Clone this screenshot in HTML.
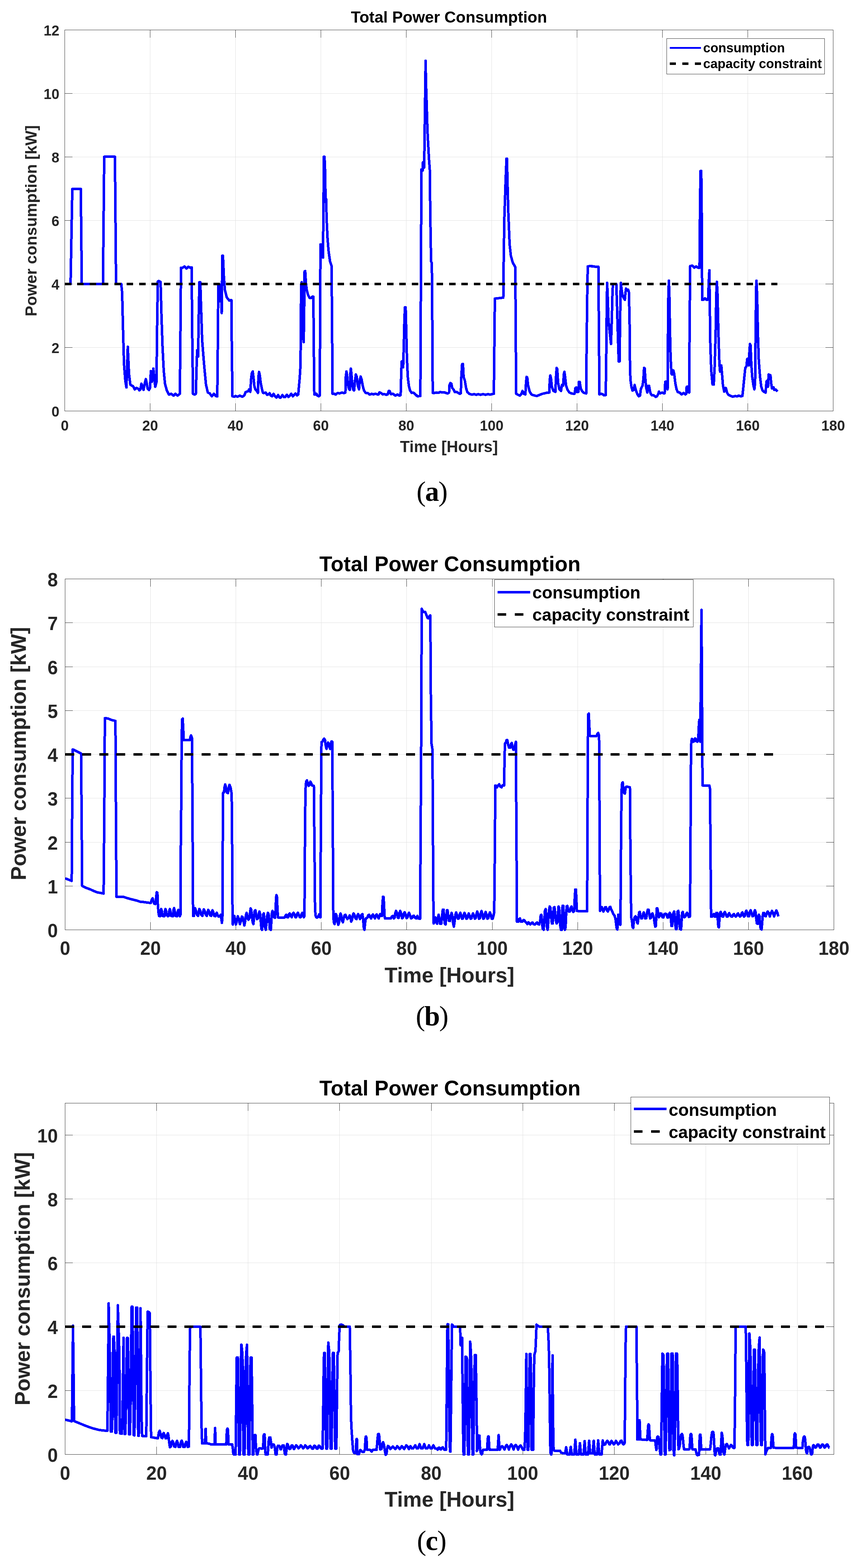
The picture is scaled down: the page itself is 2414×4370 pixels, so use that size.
<!DOCTYPE html>
<html lang="en"><head><meta charset="utf-8"><title>Total Power Consumption</title>
<style>html,body{margin:0;padding:0;background:#fff}body{width:2414px;height:4370px;overflow:hidden}svg{display:block}text{font-family:"Liberation Sans", Arial, Helvetica, sans-serif;font-weight:bold;fill:#262626}.cap{font-family:"Liberation Serif", "DejaVu Serif", serif;font-weight:normal;fill:#000;letter-spacing:-2px}.cap tspan{font-weight:bold}.t{fill:#000}.g{stroke:#dfdfdf;stroke-width:1;fill:none;shape-rendering:crispEdges}.ax{stroke:#262626;stroke-width:1;fill:none;shape-rendering:crispEdges}.c{stroke:#0000ff;fill:none;stroke-linejoin:round;stroke-linecap:butt;shape-rendering:crispEdges}.k{stroke:#000;fill:none;shape-rendering:crispEdges}</style></head><body>
<svg width="2414" height="4370" viewBox="0 0 2414 4370">
<rect width="2414" height="4370" fill="#fff"/>
<g id="chart-a">
<path class="g" d="M418.5 83.5V1145.5M656.5 83.5V1145.5M894.5 83.5V1145.5M1132.5 83.5V1145.5M1370.5 83.5V1145.5M1608.5 83.5V1145.5M1846.5 83.5V1145.5M2084.5 83.5V1145.5M180.5 968.5H2322.5M180.5 791.5H2322.5M180.5 614.5H2322.5M180.5 437.5H2322.5M180.5 260.5H2322.5"/>
<path class="ax" d="M180.5 83.5H2322.5V1145.5H180.5ZM418.5 1145.5v-21.6M418.5 83.5v21.6M656.5 1145.5v-21.6M656.5 83.5v21.6M894.5 1145.5v-21.6M894.5 83.5v21.6M1132.5 1145.5v-21.6M1132.5 83.5v21.6M1370.5 1145.5v-21.6M1370.5 83.5v21.6M1608.5 1145.5v-21.6M1608.5 83.5v21.6M1846.5 1145.5v-21.6M1846.5 83.5v21.6M2084.5 1145.5v-21.6M2084.5 83.5v21.6M180.5 968.5h21.6M2322.5 968.5h-21.6M180.5 791.5h21.6M2322.5 791.5h-21.6M180.5 614.5h21.6M2322.5 614.5h-21.6M180.5 437.5h21.6M2322.5 437.5h-21.6M180.5 260.5h21.6M2322.5 260.5h-21.6"/>
<path class="c" stroke-width="7" d="M180.5 791.5 L196.7 791.5 L201.6 526.5 L225.2 526.5 L228.0 791.5 L287.0 791.5 L290.5 436.9 L320.4 436.9 L323.5 791.5 L338.0 791.5 L340.4 814.6 L343.2 927.1 L345.7 1014.9 L349.2 1060.6 L352.4 1079.9 L356.2 966.4 L359.7 1043.0 L363.3 1071.8 L366.8 1074.6 L371.0 1076.4 L375.6 1085.2 L380.8 1081.0 L385.0 1083.4 L388.6 1088.0 L391.4 1085.2 L394.2 1069.4 L396.6 1076.4 L400.1 1086.9 L403.7 1067.6 L406.5 1056.4 L408.9 1067.6 L411.7 1083.4 L415.3 1086.9 L418.1 1081.7 L420.5 1034.2 L423.7 1064.1 L427.6 1027.2 L430.7 1060.6 L432.8 1078.1 L436.3 1064.1 L437.7 927.1 L439.9 784.8 L442.3 783.0 L447.6 785.8 L450.0 874.3 L452.9 962.2 L456.4 1032.5 L459.9 1069.4 L465.2 1088.7 L471.1 1099.9 L477.4 1097.5 L483.8 1102.7 L489.0 1097.5 L495.0 1102.7 L501.3 1097.5 L502.7 962.2 L504.5 746.1 L509.1 746.1 L514.3 742.6 L519.6 748.6 L524.9 743.6 L530.2 746.1 L534.4 745.4 L535.4 891.9 L537.9 1097.5 L542.5 1099.9 L546.0 1097.5 L547.7 1032.5 L549.5 976.2 L552.3 993.8 L553.7 891.9 L555.8 786.5 L558.3 786.5 L560.0 839.2 L563.5 948.1 L568.8 1014.9 L574.1 1071.1 L579.3 1094.0 L584.6 1096.4 L590.6 1104.5 L596.2 1097.5 L601.5 1103.8 L605.7 1104.5 L607.5 927.1 L608.5 797.0 L610.3 795.3 L612.7 839.2 L615.5 793.5 L618.0 872.6 L619.8 712.7 L621.5 712.7 L624.0 768.9 L626.8 807.6 L632.1 828.7 L639.1 837.5 L645.1 836.4 L646.1 962.2 L647.9 1104.5 L653.1 1105.6 L656.6 1103.8 L661.9 1105.6 L668.9 1102.7 L670.5 1103.8 L675.8 1105.6 L681.1 1102.0 L684.6 1092.9 L688.1 1091.5 L691.6 1090.4 L694.4 1085.2 L697.9 1092.2 L699.7 1057.1 L702.2 1038.8 L704.6 1035.3 L706.7 1053.5 L709.2 1076.4 L712.0 1085.9 L715.5 1089.4 L719.0 1095.0 L720.4 1050.0 L722.2 1036.7 L724.3 1046.5 L726.8 1067.6 L730.3 1085.2 L733.1 1095.0 L737.3 1095.0 L740.8 1094.0 L744.3 1100.3 L747.8 1099.2 L751.4 1095.7 L754.9 1102.7 L758.4 1104.5 L762.6 1097.5 L766.5 1104.5 L770.7 1108.0 L775.2 1101.0 L779.5 1108.0 L783.0 1108.0 L787.2 1101.0 L791.8 1107.0 L795.3 1106.3 L799.5 1100.3 L804.1 1106.3 L807.6 1103.4 L811.8 1097.5 L816.4 1104.5 L819.9 1101.0 L823.4 1096.8 L828.0 1102.0 L831.5 1099.2 L833.2 1078.1 L835.7 1050.0 L837.8 1014.9 L838.5 891.9 L839.6 793.5 L841.0 786.5 L842.0 856.8 L843.4 944.6 L844.8 839.2 L846.6 953.4 L848.0 856.8 L849.0 756.6 L850.8 755.6 L852.6 786.5 L855.0 807.6 L858.5 821.6 L863.1 830.4 L867.3 830.4 L870.8 826.9 L873.6 826.9 L874.3 927.1 L876.1 1099.2 L879.6 1099.2 L882.1 1097.5 L884.9 1102.7 L888.4 1104.5 L891.2 1102.7 L892.3 927.1 L893.3 681.1 L894.7 684.6 L896.1 716.2 L897.9 681.1 L900.3 718.0 L901.7 575.7 L902.8 436.9 L904.6 436.9 L906.0 470.3 L907.7 563.4 L909.1 554.6 L910.5 610.8 L913.0 663.5 L915.8 698.7 L920.0 728.5 L924.2 740.8 L925.3 856.8 L927.0 1097.5 L932.3 1097.5 L935.8 1099.9 L941.1 1095.0 L946.4 1096.4 L953.4 1094.0 L958.7 1095.7 L962.9 1094.0 L963.9 1050.0 L965.7 1035.3 L967.8 1046.5 L969.9 1071.1 L972.7 1083.4 L975.2 1086.9 L976.6 1043.0 L978.0 1027.2 L979.7 1043.0 L982.2 1074.6 L985.0 1086.9 L987.1 1088.0 L989.2 1064.1 L992.0 1043.7 L994.5 1050.0 L997.3 1074.6 L1000.8 1085.2 L1002.9 1060.6 L1005.4 1049.3 L1007.9 1057.1 L1011.4 1076.4 L1014.9 1088.7 L1019.1 1095.0 L1025.4 1095.7 L1030.7 1099.9 L1036.0 1097.5 L1041.2 1099.2 L1046.5 1097.5 L1051.8 1099.2 L1055.3 1099.2 L1057.8 1093.3 L1062.3 1095.7 L1066.9 1099.2 L1071.8 1098.2 L1076.4 1100.3 L1080.9 1099.2 L1083.4 1089.7 L1086.2 1089.7 L1089.4 1098.5 L1095.7 1097.5 L1102.0 1102.7 L1108.0 1099.2 L1113.3 1102.7 L1116.8 1101.0 L1118.2 1050.0 L1119.6 1007.9 L1122.1 1006.1 L1123.8 1023.7 L1125.6 962.2 L1127.3 891.9 L1128.7 856.8 L1130.8 856.8 L1132.6 927.1 L1134.3 997.3 L1136.8 1050.0 L1139.6 1074.6 L1143.1 1088.7 L1147.7 1095.0 L1151.9 1094.0 L1156.1 1097.5 L1160.0 1102.0 L1160.5 1101.0 L1164.1 1104.5 L1169.3 1103.8 L1171.8 1103.8 L1174.6 499.9 L1174.6 472.4 L1178.2 475.3 L1178.9 452.3 L1182.4 467.0 L1186.4 169.3 L1187.4 223.8 L1188.4 261.6 L1189.5 293.7 L1190.5 325.8 L1191.3 356.6 L1192.3 380.3 L1193.3 397.1 L1194.3 415.3 L1195.1 430.6 L1196.1 447.4 L1197.2 461.4 L1198.2 475.3 L1198.2 499.9 L1200.2 646.0 L1201.7 728.5 L1203.8 733.8 L1204.8 856.8 L1206.2 1095.0 L1211.5 1095.0 L1216.8 1094.0 L1222.0 1095.0 L1227.3 1092.2 L1232.6 1094.0 L1237.8 1093.3 L1243.1 1095.0 L1247.7 1096.8 L1251.9 1094.0 L1253.0 1072.9 L1255.4 1067.6 L1258.2 1069.4 L1260.7 1081.7 L1264.2 1085.2 L1267.7 1092.9 L1273.0 1092.2 L1277.2 1095.0 L1281.8 1097.5 L1284.6 1095.7 L1286.0 1050.0 L1288.1 1014.9 L1290.5 1014.2 L1292.3 1050.0 L1295.8 1060.6 L1299.3 1081.7 L1302.8 1092.9 L1308.1 1097.5 L1315.1 1099.9 L1322.2 1098.5 L1327.4 1100.3 L1332.7 1098.5 L1339.7 1100.3 L1346.8 1098.5 L1353.8 1100.3 L1360.1 1098.5 L1366.1 1099.9 L1371.4 1098.5 L1376.6 1097.5 L1377.7 997.3 L1379.4 832.2 L1385.4 831.5 L1396.0 830.4 L1403.0 829.4 L1403.7 751.4 L1405.8 610.8 L1409.3 505.4 L1411.8 442.2 L1413.2 442.2 L1414.6 505.4 L1417.0 593.3 L1420.6 681.1 L1424.1 712.7 L1429.3 732.0 L1436.4 744.3 L1437.4 891.9 L1438.8 1097.5 L1443.4 1099.9 L1448.7 1102.7 L1452.9 1099.2 L1456.4 1089.4 L1459.9 1097.5 L1464.5 1099.2 L1466.2 1067.6 L1468.0 1050.0 L1469.7 1051.8 L1472.2 1074.6 L1476.8 1092.2 L1482.0 1099.9 L1489.1 1102.0 L1496.1 1103.8 L1503.1 1101.0 L1511.9 1097.5 L1522.5 1095.0 L1531.2 1094.0 L1532.3 1060.6 L1534.0 1046.5 L1535.8 1053.5 L1538.3 1078.1 L1542.8 1089.4 L1548.1 1092.2 L1549.9 1050.0 L1551.6 1025.4 L1553.4 1029.0 L1555.8 1067.6 L1559.3 1085.2 L1563.9 1089.4 L1566.4 1072.9 L1569.9 1074.6 L1571.6 1043.0 L1573.4 1036.0 L1575.2 1050.0 L1578.0 1074.6 L1582.2 1086.9 L1587.5 1094.0 L1593.4 1096.8 L1601.5 1097.5 L1604.0 1081.7 L1606.1 1079.9 L1608.5 1092.9 L1612.1 1092.2 L1613.8 1064.1 L1615.9 1064.1 L1619.1 1083.4 L1622.6 1090.4 L1627.9 1095.0 L1634.2 1096.4 L1635.2 962.2 L1637.0 821.6 L1638.4 742.6 L1643.7 741.5 L1650.0 741.5 L1650.5 742.6 L1668.1 743.6 L1669.2 891.9 L1670.9 1099.2 L1675.1 1097.5 L1679.4 1098.5 L1683.9 1102.0 L1688.5 1101.0 L1689.9 997.3 L1691.3 856.8 L1692.4 788.3 L1693.8 821.6 L1696.2 891.9 L1699.7 927.1 L1703.2 958.7 L1705.4 891.9 L1707.1 821.6 L1708.5 791.5 L1713.8 791.5 L1718.0 791.5 L1720.1 856.8 L1722.6 944.6 L1724.7 1007.2 L1727.1 1007.2 L1728.2 927.1 L1729.6 821.6 L1730.7 788.3 L1732.4 804.1 L1734.9 821.6 L1738.4 830.4 L1741.9 835.7 L1743.3 818.1 L1745.1 804.1 L1748.2 809.3 L1751.0 807.6 L1753.1 814.6 L1754.9 891.9 L1756.3 1032.5 L1757.7 1060.6 L1760.2 1078.1 L1763.0 1088.7 L1766.5 1086.9 L1769.0 1072.9 L1771.1 1081.7 L1773.5 1090.4 L1777.0 1099.2 L1780.5 1104.5 L1784.1 1102.7 L1786.2 1085.2 L1788.3 1079.9 L1791.1 1074.6 L1793.5 1057.1 L1795.3 1025.4 L1797.1 1026.1 L1798.8 1053.5 L1800.9 1078.1 L1804.4 1094.0 L1806.9 1075.3 L1809.4 1075.3 L1811.5 1088.7 L1813.9 1097.5 L1817.4 1101.7 L1822.7 1102.0 L1828.0 1106.3 L1831.5 1104.5 L1835.0 1097.5 L1836.8 1091.5 L1840.3 1096.4 L1845.6 1094.0 L1850.8 1096.4 L1852.9 1095.7 L1854.3 1064.1 L1856.8 1063.4 L1858.9 1081.7 L1861.0 1085.2 L1861.7 962.2 L1863.1 821.6 L1864.5 782.3 L1865.9 821.6 L1867.7 927.1 L1869.4 997.3 L1871.9 1043.0 L1874.7 1043.7 L1877.2 1032.5 L1879.6 1043.0 L1882.4 1067.6 L1886.0 1085.2 L1889.5 1092.9 L1894.7 1094.0 L1900.0 1099.2 L1905.3 1095.0 L1910.6 1099.2 L1913.0 1097.5 L1914.1 1078.1 L1916.5 1077.4 L1918.6 1092.2 L1921.1 1094.0 L1922.2 927.1 L1923.9 741.5 L1929.9 740.1 L1935.2 746.1 L1940.4 742.6 L1945.7 746.1 L1949.9 746.1 L1951.3 575.7 L1952.7 476.6 L1954.8 476.6 L1956.2 610.8 L1957.3 835.7 L1961.5 835.0 L1965.0 831.5 L1968.5 835.0 L1973.8 835.0 L1975.6 786.5 L1977.3 753.1 L1978.7 856.8 L1980.1 962.2 L1982.6 1032.5 L1986.1 1071.1 L1989.6 1071.8 L1992.4 1014.9 L1994.9 927.1 L1996.6 821.6 L1998.4 785.5 L2000.2 821.6 L2002.6 927.1 L2005.4 1014.9 L2007.2 1036.0 L2010.7 1018.4 L2012.5 1039.5 L2015.3 1074.6 L2018.8 1091.5 L2021.2 1081.0 L2023.7 1081.7 L2026.5 1094.0 L2030.0 1099.9 L2035.3 1102.7 L2042.3 1105.6 L2049.3 1103.8 L2054.6 1104.5 L2059.9 1102.7 L2065.2 1104.5 L2069.4 1103.8 L2071.5 1085.2 L2073.9 1060.6 L2077.5 1025.4 L2081.0 1020.2 L2082.7 1000.8 L2085.5 999.1 L2087.6 1018.4 L2089.1 979.8 L2090.5 958.7 L2092.2 962.2 L2094.3 1014.9 L2096.8 1050.0 L2100.3 1074.6 L2102.8 1085.2 L2104.9 1067.6 L2106.3 927.1 L2107.7 804.1 L2108.7 782.3 L2110.5 821.6 L2112.6 927.1 L2115.1 1004.4 L2118.6 1050.0 L2122.1 1078.1 L2125.9 1088.7 L2130.2 1092.2 L2134.0 1094.3 L2136.8 1062.6 L2139.3 1060.5 L2141.0 1077.4 L2142.5 1043.7 L2147.7 1045.8 L2149.8 1069.0 L2152.0 1082.7 L2156.2 1079.5 L2158.3 1086.9 L2162.5 1085.8 L2167.8 1091.1"/>
<path class="k" stroke-width="7" stroke-dasharray="18 16.55" d="M180.5 791.5H2167.0"/>
<text transform="translate(180.5 1200.3) scale(0.96 1)" font-size="41.3" text-anchor="middle">0</text>
<text transform="translate(418.5 1200.3) scale(0.96 1)" font-size="41.3" text-anchor="middle">20</text>
<text transform="translate(656.5 1200.3) scale(0.96 1)" font-size="41.3" text-anchor="middle">40</text>
<text transform="translate(894.5 1200.3) scale(0.96 1)" font-size="41.3" text-anchor="middle">60</text>
<text transform="translate(1132.5 1200.3) scale(0.96 1)" font-size="41.3" text-anchor="middle">80</text>
<text transform="translate(1370.5 1200.3) scale(0.96 1)" font-size="41.3" text-anchor="middle">100</text>
<text transform="translate(1608.5 1200.3) scale(0.96 1)" font-size="41.3" text-anchor="middle">120</text>
<text transform="translate(1846.5 1200.3) scale(0.96 1)" font-size="41.3" text-anchor="middle">140</text>
<text transform="translate(2084.5 1200.3) scale(0.96 1)" font-size="41.3" text-anchor="middle">160</text>
<text transform="translate(2322.5 1200.3) scale(0.96 1)" font-size="41.3" text-anchor="middle">180</text>
<text transform="translate(165.6 1161.2) scale(0.96 1)" font-size="41.3" text-anchor="end">0</text>
<text transform="translate(165.6 984.2) scale(0.96 1)" font-size="41.3" text-anchor="end">2</text>
<text transform="translate(165.6 807.2) scale(0.96 1)" font-size="41.3" text-anchor="end">4</text>
<text transform="translate(165.6 630.2) scale(0.96 1)" font-size="41.3" text-anchor="end">6</text>
<text transform="translate(165.6 453.2) scale(0.96 1)" font-size="41.3" text-anchor="end">8</text>
<text transform="translate(165.6 276.2) scale(0.96 1)" font-size="41.3" text-anchor="end">10</text>
<text transform="translate(165.6 99.2) scale(0.96 1)" font-size="41.3" text-anchor="end">12</text>
<text class="t" x="1251.5" y="63.2" font-size="44.4" text-anchor="middle">Total Power Consumption</text>
<text x="1251.5" y="1260.0" font-size="44.4" text-anchor="middle">Time [Hours]</text>
<text transform="translate(101.8 615.3) rotate(-90)" font-size="44.4" text-anchor="middle">Power consumption [kW]</text>
<rect x="1858.5" y="107.5" width="440.0" height="99.0" fill="#fff" stroke="#262626" stroke-width="1" shape-rendering="crispEdges"/>
<path class="c" stroke-width="5.5" d="M1867.0 133.7H1954.0"/>
<path class="k" stroke-width="7" stroke-dasharray="17 18" d="M1867.0 177.4H1954.0"/>
<text class="t" x="1960.0" y="145.5" font-size="36.3">consumption</text>
<text class="t" x="1960.0" y="189.5" font-size="36.3">capacity constraint</text>
<text class="cap" x="1203.6" y="1396.4" font-size="78" text-anchor="middle">(<tspan>a</tspan>)</text>
</g>
<g id="chart-b">
<path class="g" d="M419.6 1613.5V2591.5M657.7 1613.5V2591.5M895.8 1613.5V2591.5M1133.9 1613.5V2591.5M1372.1 1613.5V2591.5M1610.2 1613.5V2591.5M1848.3 1613.5V2591.5M2086.4 1613.5V2591.5M181.5 2469.2H2324.5M181.5 2347.0H2324.5M181.5 2224.8H2324.5M181.5 2102.5H2324.5M181.5 1980.2H2324.5M181.5 1858.0H2324.5M181.5 1735.8H2324.5"/>
<path class="ax" d="M181.5 1613.5H2324.5V2591.5H181.5ZM419.6 2591.5v-21.6M419.6 1613.5v21.6M657.7 2591.5v-21.6M657.7 1613.5v21.6M895.8 2591.5v-21.6M895.8 1613.5v21.6M1133.9 2591.5v-21.6M1133.9 1613.5v21.6M1372.1 2591.5v-21.6M1372.1 1613.5v21.6M1610.2 2591.5v-21.6M1610.2 1613.5v21.6M1848.3 2591.5v-21.6M1848.3 1613.5v21.6M2086.4 2591.5v-21.6M2086.4 1613.5v21.6M181.5 2469.2h21.6M2324.5 2469.2h-21.6M181.5 2347.0h21.6M2324.5 2347.0h-21.6M181.5 2224.8h21.6M2324.5 2224.8h-21.6M181.5 2102.5h21.6M2324.5 2102.5h-21.6M181.5 1980.2h21.6M2324.5 1980.2h-21.6M181.5 1858.0h21.6M2324.5 1858.0h-21.6M181.5 1735.8h21.6M2324.5 1735.8h-21.6"/>
<path class="c" stroke-width="7" d="M181.6 2448.0 L191.1 2451.5 L199.9 2455.1 L200.6 2341.9 L201.6 2201.4 L202.7 2088.9 L205.1 2089.6 L215.7 2094.9 L226.2 2100.2 L226.9 2201.4 L228.3 2377.1 L229.0 2469.1 L233.2 2471.2 L240.3 2474.7 L250.8 2478.3 L261.4 2483.2 L270.1 2486.7 L278.9 2488.4 L288.8 2490.2 L289.8 2377.1 L291.2 2201.4 L292.3 2001.8 L300.0 2002.1 L310.5 2006.4 L321.8 2009.2 L322.8 2201.4 L323.9 2377.1 L324.6 2499.3 L335.1 2499.3 L345.7 2500.0 L356.2 2503.5 L366.8 2506.4 L380.8 2509.9 L391.4 2513.4 L401.9 2514.1 L412.4 2515.8 L420.2 2516.5 L423.0 2507.1 L425.4 2503.5 L427.6 2512.3 L430.0 2518.7 L433.5 2519.4 L435.3 2500.0 L437.0 2486.7 L438.8 2487.7 L439.9 2517.6 L441.6 2542.2 L443.4 2552.7 L446.2 2553.8 L447.9 2538.7 L449.3 2533.4 L451.1 2538.7 L453.2 2552.7 L458.1 2553.8 L459.9 2538.7 L461.3 2533.4 L463.0 2538.7 L465.2 2551.0 L468.0 2553.8 L470.4 2552.7 L472.2 2536.9 L473.6 2533.4 L475.3 2540.4 L477.4 2552.7 L482.0 2553.8 L483.8 2535.2 L485.2 2531.0 L486.9 2538.7 L489.0 2552.7 L493.3 2553.8 L495.4 2540.4 L497.1 2535.9 L499.2 2544.0 L501.0 2553.8 L503.1 2549.2 L503.8 2377.1 L505.6 2201.4 L506.3 2060.8 L507.7 2004.6 L509.4 2002.8 L510.8 2032.7 L512.2 2062.6 L521.4 2062.6 L529.1 2062.6 L530.9 2053.8 L532.6 2049.6 L535.4 2057.3 L536.1 2201.4 L537.2 2377.1 L538.2 2552.7 L540.7 2552.7 L541.7 2538.7 L543.5 2531.0 L546.0 2536.9 L548.8 2549.2 L552.3 2552.7 L554.0 2540.4 L555.8 2533.4 L558.3 2538.7 L560.7 2549.2 L564.2 2552.7 L566.3 2540.4 L568.1 2534.5 L570.6 2539.4 L573.4 2549.2 L576.5 2552.7 L578.6 2541.5 L580.4 2535.9 L582.9 2540.4 L585.7 2551.0 L588.8 2552.7 L590.6 2541.5 L592.3 2536.9 L594.5 2542.2 L597.3 2552.7 L600.4 2553.8 L602.5 2545.7 L604.3 2544.0 L606.8 2551.0 L609.2 2554.5 L613.4 2553.8 L615.5 2549.2 L616.9 2559.8 L618.7 2572.1 L620.1 2552.7 L620.8 2377.1 L621.9 2209.5 L624.3 2208.4 L626.1 2192.6 L627.8 2186.3 L629.6 2192.6 L632.1 2208.4 L635.6 2210.2 L637.7 2194.3 L639.8 2187.3 L642.6 2194.3 L645.1 2208.4 L646.1 2236.5 L647.2 2377.1 L648.2 2552.7 L648.9 2576.6 L650.7 2566.8 L653.1 2552.7 L655.2 2563.3 L657.7 2576.6 L660.2 2566.8 L663.0 2553.8 L665.4 2559.8 L668.2 2573.8 L668.8 2575.6 L671.6 2566.8 L674.1 2554.5 L676.5 2556.3 L678.6 2566.8 L681.1 2579.1 L683.5 2566.8 L685.7 2549.2 L687.4 2544.0 L689.5 2552.7 L692.3 2563.3 L695.1 2559.8 L696.9 2544.0 L698.7 2531.7 L700.4 2535.2 L702.2 2552.7 L704.3 2570.3 L706.4 2575.6 L708.1 2556.3 L709.9 2538.7 L712.0 2536.9 L714.1 2549.2 L716.2 2561.5 L719.0 2559.8 L721.1 2547.5 L723.2 2540.4 L725.4 2547.5 L726.8 2566.8 L728.5 2587.9 L730.3 2591.4 L732.0 2573.8 L733.4 2549.2 L735.2 2545.7 L737.0 2559.8 L738.7 2584.4 L740.8 2591.4 L742.9 2573.8 L744.7 2552.7 L746.8 2544.0 L748.9 2547.5 L750.7 2566.8 L752.1 2589.6 L754.9 2591.4 L756.3 2570.3 L757.7 2545.7 L759.4 2538.7 L761.2 2544.0 L763.3 2556.3 L766.5 2558.0 L768.2 2535.2 L769.6 2500.0 L770.7 2494.8 L772.1 2500.0 L773.5 2535.2 L774.9 2557.0 L783.0 2557.0 L793.5 2557.0 L796.3 2551.0 L798.1 2549.2 L800.5 2556.3 L803.4 2556.3 L805.5 2547.5 L807.6 2545.7 L810.4 2552.7 L813.2 2556.3 L815.7 2547.5 L818.1 2544.0 L820.6 2547.5 L823.4 2556.3 L825.8 2556.3 L828.0 2547.5 L830.4 2544.0 L832.9 2549.2 L835.7 2556.3 L838.5 2556.3 L840.6 2547.5 L842.7 2544.0 L844.8 2551.0 L846.9 2556.3 L848.7 2552.7 L849.4 2447.3 L850.4 2306.8 L851.5 2201.4 L853.3 2178.5 L855.7 2175.0 L857.8 2182.0 L860.3 2190.1 L863.1 2187.3 L865.2 2178.5 L867.3 2182.0 L869.8 2189.1 L875.0 2190.1 L875.7 2271.6 L877.1 2412.2 L878.2 2535.2 L880.0 2552.7 L882.1 2557.0 L884.9 2557.0 L887.7 2552.7 L889.4 2548.5 L891.9 2556.3 L893.3 2556.3 L894.0 2377.1 L895.1 2201.4 L896.1 2068.6 L898.9 2067.1 L901.4 2060.8 L903.5 2058.4 L906.0 2062.6 L908.1 2078.4 L910.2 2087.2 L912.3 2074.9 L914.4 2069.6 L916.5 2071.4 L918.6 2081.9 L920.4 2087.2 L922.1 2074.9 L924.2 2066.1 L926.3 2067.1 L927.0 2201.4 L928.1 2377.1 L929.1 2552.7 L930.6 2570.3 L932.7 2575.6 L934.8 2559.8 L936.5 2547.5 L938.3 2552.7 L940.4 2566.8 L942.9 2577.3 L945.3 2570.3 L947.4 2552.7 L949.2 2545.7 L951.6 2552.7 L953.7 2566.8 L955.9 2570.3 L958.0 2559.8 L960.4 2551.0 L962.9 2549.2 L965.7 2556.3 L968.5 2561.5 L972.0 2558.0 L974.8 2551.0 L976.9 2556.3 L979.0 2568.6 L981.5 2563.3 L983.3 2551.0 L985.7 2545.7 L988.5 2551.0 L991.0 2559.8 L993.8 2561.5 L996.3 2551.0 L998.4 2547.5 L1000.8 2552.7 L1003.6 2561.5 L1006.1 2556.3 L1007.9 2549.2 L1010.3 2547.5 L1012.4 2563.3 L1014.2 2587.9 L1015.9 2591.4 L1017.7 2573.8 L1019.5 2559.8 L1023.7 2558.0 L1026.1 2551.0 L1028.9 2549.2 L1031.7 2556.3 L1034.6 2559.8 L1037.4 2551.0 L1039.5 2548.5 L1042.3 2554.5 L1045.1 2559.8 L1047.9 2551.0 L1050.0 2548.5 L1052.8 2554.5 L1055.6 2559.8 L1057.8 2551.0 L1059.9 2547.5 L1062.3 2552.7 L1064.8 2552.7 L1066.2 2517.6 L1067.6 2499.3 L1069.0 2499.3 L1070.4 2517.6 L1071.8 2552.7 L1073.2 2559.8 L1081.6 2559.8 L1089.4 2559.8 L1092.2 2554.5 L1095.0 2552.7 L1097.5 2559.8 L1099.9 2558.0 L1102.0 2544.0 L1104.1 2538.7 L1106.2 2544.0 L1109.1 2558.0 L1111.5 2558.0 L1113.6 2544.0 L1115.7 2538.7 L1118.2 2545.7 L1121.0 2559.1 L1123.8 2556.3 L1125.9 2545.7 L1128.0 2542.2 L1130.8 2549.2 L1133.6 2559.1 L1136.1 2556.3 L1138.2 2547.5 L1140.3 2544.0 L1143.1 2551.0 L1145.9 2559.8 L1149.1 2558.0 L1151.2 2552.7 L1153.7 2552.0 L1157.2 2558.0 L1160.0 2559.8 L1160.5 2559.8 L1163.4 2552.7 L1165.8 2559.8 L1171.1 2560.5 L1174.4 2019.9 L1174.7 1911.5 L1175.5 1696.6 L1178.2 1701.9 L1179.6 1705.4 L1185.2 1705.4 L1187.3 1710.3 L1189.4 1715.9 L1192.2 1722.9 L1194.3 1723.2 L1197.1 1717.3 L1199.4 1715.2 L1199.9 1771.8 L1200.6 1883.6 L1201.5 1995.3 L1202.4 2019.9 L1202.7 2071.4 L1205.5 2088.9 L1206.2 2201.4 L1207.3 2412.2 L1208.3 2552.7 L1209.0 2573.8 L1211.5 2559.8 L1213.9 2557.0 L1216.1 2570.3 L1218.5 2574.5 L1221.0 2556.3 L1222.7 2549.2 L1224.5 2559.8 L1226.6 2574.5 L1230.1 2574.5 L1232.2 2552.7 L1234.3 2535.2 L1236.4 2535.2 L1237.8 2552.7 L1239.6 2573.8 L1242.1 2576.6 L1244.2 2556.3 L1245.9 2536.9 L1247.7 2536.9 L1249.4 2552.7 L1251.9 2566.8 L1254.4 2566.8 L1256.5 2552.7 L1258.9 2544.0 L1261.0 2552.7 L1263.1 2573.8 L1265.2 2582.6 L1267.0 2570.3 L1269.5 2549.2 L1271.6 2542.9 L1273.7 2549.2 L1276.5 2560.5 L1279.0 2559.8 L1281.1 2549.2 L1283.2 2544.0 L1285.6 2551.0 L1288.1 2560.5 L1290.5 2559.8 L1292.7 2549.2 L1294.8 2544.0 L1297.6 2551.0 L1300.0 2560.5 L1302.5 2559.8 L1304.6 2551.0 L1306.7 2545.7 L1309.2 2552.7 L1311.6 2560.5 L1314.1 2559.8 L1316.2 2551.0 L1318.7 2545.7 L1321.1 2552.7 L1323.6 2560.5 L1326.0 2559.1 L1328.1 2547.5 L1330.3 2540.4 L1332.7 2547.5 L1335.2 2560.5 L1338.0 2559.1 L1340.1 2545.7 L1342.2 2538.7 L1344.7 2547.5 L1347.1 2560.5 L1349.6 2559.1 L1351.7 2547.5 L1353.8 2541.5 L1356.3 2549.2 L1358.7 2560.5 L1361.2 2559.1 L1363.3 2548.5 L1365.7 2542.9 L1368.2 2549.2 L1370.7 2560.5 L1373.5 2560.5 L1375.6 2552.7 L1377.7 2542.2 L1378.7 2447.3 L1379.8 2306.8 L1380.9 2189.1 L1383.0 2190.1 L1385.4 2194.3 L1388.2 2189.1 L1391.7 2185.6 L1394.9 2192.6 L1398.1 2194.3 L1401.2 2188.4 L1405.1 2189.1 L1405.8 2148.7 L1406.9 2096.0 L1407.9 2072.1 L1410.0 2069.6 L1412.1 2062.6 L1414.2 2062.6 L1416.3 2074.9 L1418.8 2083.7 L1422.3 2083.7 L1424.4 2073.1 L1426.5 2070.7 L1428.6 2081.9 L1431.1 2089.6 L1433.9 2088.9 L1436.0 2074.9 L1438.1 2067.1 L1438.8 2201.4 L1439.9 2377.1 L1440.9 2568.6 L1445.2 2568.6 L1447.3 2561.5 L1449.4 2559.8 L1452.2 2568.6 L1456.4 2568.6 L1459.2 2564.0 L1462.0 2565.0 L1464.5 2569.6 L1468.0 2572.1 L1470.4 2575.6 L1473.3 2570.3 L1476.1 2573.8 L1478.5 2576.6 L1482.0 2572.1 L1484.5 2571.0 L1487.3 2575.6 L1490.8 2576.6 L1494.3 2573.1 L1497.2 2571.0 L1500.0 2575.6 L1503.1 2576.6 L1505.6 2566.8 L1507.3 2551.0 L1509.1 2549.2 L1510.9 2570.3 L1512.6 2587.9 L1515.4 2591.4 L1517.2 2566.8 L1518.9 2538.7 L1521.0 2533.4 L1522.8 2552.7 L1524.6 2584.4 L1526.7 2591.4 L1528.4 2570.3 L1530.2 2538.7 L1532.3 2526.4 L1534.4 2529.9 L1536.2 2552.7 L1538.3 2573.8 L1540.7 2573.8 L1542.1 2552.7 L1543.5 2529.9 L1545.6 2528.1 L1547.4 2542.2 L1549.2 2563.3 L1551.6 2573.8 L1554.1 2570.3 L1555.5 2545.7 L1556.9 2526.4 L1558.6 2529.9 L1560.4 2552.7 L1561.8 2580.9 L1563.6 2591.4 L1566.0 2591.4 L1567.1 2552.7 L1568.1 2524.6 L1570.2 2524.6 L1571.6 2552.7 L1573.0 2584.4 L1574.8 2591.4 L1576.6 2584.4 L1578.0 2552.7 L1579.4 2526.4 L1581.5 2524.6 L1583.6 2535.2 L1585.7 2540.4 L1588.5 2540.4 L1591.0 2529.9 L1593.4 2526.4 L1595.5 2536.9 L1598.0 2541.5 L1600.8 2538.7 L1602.2 2500.0 L1603.6 2479.0 L1605.4 2479.0 L1606.8 2510.6 L1608.2 2538.7 L1613.8 2539.7 L1624.3 2539.7 L1636.6 2539.7 L1637.4 2377.1 L1638.4 2131.1 L1639.5 1990.5 L1641.2 1988.8 L1642.6 2018.7 L1644.0 2051.0 L1650.0 2051.0 L1650.5 2051.3 L1662.8 2051.3 L1665.3 2045.0 L1667.4 2042.6 L1669.9 2050.3 L1670.6 2131.1 L1671.6 2377.1 L1672.7 2538.7 L1675.1 2531.7 L1677.6 2528.1 L1679.7 2535.2 L1682.2 2540.4 L1684.6 2533.4 L1687.1 2528.1 L1689.2 2528.1 L1691.7 2536.9 L1694.5 2540.4 L1696.9 2535.2 L1699.0 2528.1 L1701.5 2527.4 L1703.9 2535.2 L1706.8 2540.4 L1709.6 2547.5 L1712.7 2551.0 L1715.5 2559.8 L1717.3 2573.8 L1719.1 2587.9 L1720.8 2590.7 L1722.2 2570.3 L1723.6 2549.2 L1725.4 2559.8 L1727.1 2575.6 L1729.2 2577.3 L1730.3 2482.5 L1731.4 2306.8 L1732.8 2201.4 L1734.2 2182.0 L1735.9 2180.3 L1737.7 2197.9 L1739.8 2210.2 L1741.9 2211.9 L1743.7 2197.9 L1745.4 2192.6 L1748.9 2192.6 L1752.4 2193.6 L1756.0 2194.3 L1756.7 2306.8 L1758.1 2447.3 L1759.5 2556.3 L1761.6 2566.8 L1763.3 2584.4 L1765.1 2586.1 L1766.8 2566.8 L1769.0 2556.3 L1771.4 2553.8 L1773.5 2556.3 L1775.6 2570.3 L1777.7 2573.8 L1779.8 2556.3 L1781.6 2542.2 L1783.4 2541.5 L1785.5 2552.7 L1787.6 2559.8 L1790.4 2559.1 L1792.5 2547.5 L1794.6 2542.9 L1796.7 2549.2 L1798.8 2559.8 L1801.6 2559.1 L1803.7 2544.0 L1805.8 2535.2 L1808.0 2535.2 L1810.1 2549.2 L1812.2 2559.8 L1814.6 2558.0 L1816.7 2547.5 L1818.8 2545.7 L1821.0 2552.7 L1823.1 2559.8 L1824.8 2573.8 L1826.6 2582.6 L1828.3 2580.9 L1829.7 2552.7 L1830.8 2531.7 L1832.6 2531.7 L1834.7 2544.0 L1836.8 2556.3 L1838.9 2552.7 L1841.0 2545.7 L1843.8 2546.4 L1846.6 2556.3 L1849.4 2557.0 L1851.9 2547.5 L1855.0 2546.4 L1857.8 2547.5 L1860.3 2557.0 L1862.8 2557.0 L1864.9 2547.5 L1867.0 2544.0 L1869.1 2547.5 L1870.5 2566.8 L1871.9 2580.9 L1873.7 2580.9 L1875.4 2559.8 L1877.2 2544.0 L1879.3 2540.4 L1881.0 2552.7 L1882.4 2577.3 L1884.2 2589.6 L1886.0 2589.6 L1887.4 2563.3 L1888.8 2540.4 L1890.9 2538.7 L1892.6 2552.7 L1894.0 2577.3 L1895.8 2589.6 L1898.6 2590.7 L1900.0 2566.8 L1901.4 2544.0 L1903.2 2541.5 L1905.3 2551.0 L1907.7 2556.3 L1910.6 2554.5 L1912.7 2547.5 L1915.1 2544.0 L1917.6 2547.5 L1920.0 2555.6 L1923.2 2554.5 L1923.9 2482.5 L1925.0 2306.8 L1926.0 2131.1 L1927.1 2067.1 L1928.8 2059.1 L1930.9 2060.8 L1933.0 2067.1 L1935.2 2065.0 L1937.3 2058.0 L1939.4 2059.1 L1941.5 2066.1 L1944.3 2067.1 L1946.4 2060.8 L1947.8 2025.7 L1949.2 2006.4 L1950.6 2025.7 L1952.0 2067.1 L1955.4 1699.8 L1958.3 2189.1 L1977.3 2189.1 L1979.1 2197.9 L1980.1 2306.8 L1981.2 2447.3 L1982.2 2554.5 L1985.7 2554.5 L1987.9 2549.2 L1990.0 2547.5 L1992.1 2554.5 L1994.9 2554.5 L1997.0 2544.0 L1999.1 2544.0 L2000.9 2563.3 L2002.3 2582.6 L2004.0 2584.4 L2005.4 2563.3 L2006.8 2545.7 L2008.9 2541.5 L2011.0 2547.5 L2013.5 2554.5 L2016.0 2554.5 L2018.1 2545.0 L2020.5 2541.5 L2023.0 2547.5 L2025.8 2554.5 L2028.6 2554.5 L2030.7 2547.5 L2032.8 2545.0 L2035.6 2551.0 L2038.5 2554.5 L2041.3 2554.5 L2043.4 2549.2 L2045.8 2547.5 L2048.3 2552.0 L2051.1 2554.5 L2053.2 2552.7 L2055.3 2547.5 L2057.4 2545.7 L2059.9 2551.0 L2062.7 2554.5 L2065.2 2552.7 L2067.3 2545.0 L2069.4 2542.9 L2071.5 2549.2 L2073.9 2554.5 L2076.4 2552.7 L2078.5 2542.2 L2080.6 2538.0 L2082.7 2544.0 L2085.2 2553.8 L2088.0 2553.8 L2090.1 2542.2 L2092.6 2536.9 L2095.0 2544.0 L2097.5 2553.8 L2100.3 2552.7 L2102.4 2542.2 L2104.5 2536.9 L2106.6 2544.0 L2108.0 2559.8 L2109.8 2573.8 L2112.6 2574.5 L2114.0 2556.3 L2115.4 2549.2 L2117.2 2552.7 L2118.6 2573.8 L2120.3 2587.9 L2122.8 2590.7 L2124.5 2573.8 L2125.9 2552.7 L2127.7 2544.0 L2129.8 2544.0 L2131.9 2552.7 L2134.7 2553.8 L2137.2 2545.7 L2140.0 2540.4 L2142.9 2544.6 L2146.0 2554.1 L2149.0 2544.6 L2151.9 2538.7 L2154.7 2544.6 L2157.8 2554.1 L2160.9 2544.6 L2164.2 2537.5 L2167.3 2544.6 L2169.6 2554.1"/>
<path class="k" stroke-width="7" stroke-dasharray="25 22.52" d="M181.5 2102.5H2169.5"/>
<text transform="translate(181.5 2661.4) scale(0.96 1)" font-size="54" text-anchor="middle">0</text>
<text transform="translate(419.6 2661.4) scale(0.96 1)" font-size="54" text-anchor="middle">20</text>
<text transform="translate(657.7 2661.4) scale(0.96 1)" font-size="54" text-anchor="middle">40</text>
<text transform="translate(895.8 2661.4) scale(0.96 1)" font-size="54" text-anchor="middle">60</text>
<text transform="translate(1133.9 2661.4) scale(0.96 1)" font-size="54" text-anchor="middle">80</text>
<text transform="translate(1372.1 2661.4) scale(0.96 1)" font-size="54" text-anchor="middle">100</text>
<text transform="translate(1610.2 2661.4) scale(0.96 1)" font-size="54" text-anchor="middle">120</text>
<text transform="translate(1848.3 2661.4) scale(0.96 1)" font-size="54" text-anchor="middle">140</text>
<text transform="translate(2086.4 2661.4) scale(0.96 1)" font-size="54" text-anchor="middle">160</text>
<text transform="translate(2324.5 2661.4) scale(0.96 1)" font-size="54" text-anchor="middle">180</text>
<text transform="translate(161.3 2612.0) scale(0.96 1)" font-size="54" text-anchor="end">0</text>
<text transform="translate(161.3 2489.8) scale(0.96 1)" font-size="54" text-anchor="end">1</text>
<text transform="translate(161.3 2367.5) scale(0.96 1)" font-size="54" text-anchor="end">2</text>
<text transform="translate(161.3 2245.3) scale(0.96 1)" font-size="54" text-anchor="end">3</text>
<text transform="translate(161.3 2123.0) scale(0.96 1)" font-size="54" text-anchor="end">4</text>
<text transform="translate(161.3 2000.8) scale(0.96 1)" font-size="54" text-anchor="end">5</text>
<text transform="translate(161.3 1878.5) scale(0.96 1)" font-size="54" text-anchor="end">6</text>
<text transform="translate(161.3 1756.3) scale(0.96 1)" font-size="54" text-anchor="end">7</text>
<text transform="translate(161.3 1634.0) scale(0.96 1)" font-size="54" text-anchor="end">8</text>
<text class="t" x="1254.5" y="1592.4" font-size="58.6" text-anchor="middle" letter-spacing="0.3">Total Power Consumption</text>
<text x="1253.0" y="2738.0" font-size="58.85" text-anchor="middle">Time [Hours]</text>
<text transform="translate(71.6 2100.4) rotate(-90)" font-size="58.85" text-anchor="middle">Power consumption [kW]</text>
<rect x="1378.5" y="1615.5" width="554.0" height="132.0" fill="#fff" stroke="#262626" stroke-width="1" shape-rendering="crispEdges"/>
<path class="c" stroke-width="7" d="M1387.0 1650.8H1478.0"/>
<path class="k" stroke-width="7" stroke-dasharray="24 24" d="M1387.0 1712.9H1478.0"/>
<text class="t" x="1484.0" y="1668.0" font-size="48">consumption</text>
<text class="t" x="1484.0" y="1730.0" font-size="48">capacity constraint</text>
<text class="cap" x="1203.6" y="2858.3" font-size="78" text-anchor="middle">(<tspan>b</tspan>)</text>
</g>
<g id="chart-c">
<path class="g" d="M436.6 3074.5V4053.5M691.7 3074.5V4053.5M946.9 3074.5V4053.5M1202.0 3074.5V4053.5M1457.1 3074.5V4053.5M1712.2 3074.5V4053.5M1967.3 3074.5V4053.5M2222.5 3074.5V4053.5M181.5 3875.5H2324.5M181.5 3697.5H2324.5M181.5 3519.5H2324.5M181.5 3341.5H2324.5M181.5 3163.5H2324.5"/>
<path class="ax" d="M181.5 3074.5H2324.5V4053.5H181.5ZM436.6 4053.5v-21.6M436.6 3074.5v21.6M691.7 4053.5v-21.6M691.7 3074.5v21.6M946.9 4053.5v-21.6M946.9 3074.5v21.6M1202.0 4053.5v-21.6M1202.0 3074.5v21.6M1457.1 4053.5v-21.6M1457.1 3074.5v21.6M1712.2 4053.5v-21.6M1712.2 3074.5v21.6M1967.3 4053.5v-21.6M1967.3 3074.5v21.6M2222.5 4053.5v-21.6M2222.5 3074.5v21.6M181.5 3875.5h21.6M2324.5 3875.5h-21.6M181.5 3697.5h21.6M2324.5 3697.5h-21.6M181.5 3519.5h21.6M2324.5 3519.5h-21.6M181.5 3341.5h21.6M2324.5 3341.5h-21.6M181.5 3163.5h21.6M2324.5 3163.5h-21.6"/>
<path class="c" stroke-width="7" d="M181.6 3956.7 L191.1 3958.8 L199.9 3961.3 L200.6 3959.0 L203.5 3694.8 L206.5 3960.5 L222.7 3967.2 L240.3 3974.3 L257.8 3980.6 L275.4 3985.1 L280.0 3985.8 L289.8 3986.9 L297.1 3987.4 L299.2 3987.4 L299.8 3954.8 L300.6 3873.2 L301.8 3764.8 L302.8 3671.0 L302.8 3632.6 L303.9 3684.0 L305.0 3716.6 L306.2 3777.0 L307.1 3844.7 L308.0 3910.0 L309.0 3989.9 L311.8 3989.9 L313.3 3950.7 L314.5 3790.0 L315.6 3742.7 L316.1 3725.0 L317.3 3725.0 L318.1 3741.1 L319.2 3764.8 L320.1 3844.7 L321.0 3950.7 L321.8 3993.1 L324.4 3993.1 L325.5 3910.0 L326.3 3828.4 L327.6 3715.8 L328.4 3648.1 L328.5 3637.8 L329.5 3675.0 L330.7 3702.8 L332.0 3749.3 L333.1 3823.5 L333.3 3910.0 L333.5 3975.2 L334.3 3994.8 L339.5 3995.6 L341.4 3942.6 L342.6 3865.9 L343.5 3781.9 L344.4 3728.4 L344.6 3787.6 L345.3 3861.0 L346.1 3926.3 L347.2 3996.4 L349.3 3996.4 L351.1 3926.3 L352.7 3794.9 L353.7 3757.4 L354.0 3728.9 L356.1 3728.9 L357.2 3772.9 L358.1 3861.0 L359.0 3926.3 L359.6 3997.2 L362.4 3997.2 L364.2 3905.9 L365.6 3750.1 L366.7 3666.9 L367.0 3641.9 L369.2 3641.9 L370.3 3732.1 L371.4 3844.7 L372.0 3905.9 L372.7 3999.7 L374.6 4000.5 L376.4 3910.0 L377.6 3812.1 L378.6 3724.8 L379.8 3655.5 L379.8 3644.0 L382.2 3644.0 L383.3 3734.6 L383.9 3828.4 L384.2 3910.0 L385.2 4001.3 L386.9 4001.3 L389.0 3910.0 L390.3 3812.1 L391.4 3730.5 L391.6 3646.0 L392.3 3707.7 L393.5 3819.4 L394.3 3929.5 L395.6 3991.5 L396.6 4002.1 L405.6 4002.6 L407.6 4002.9 L408.5 3942.6 L409.5 3828.4 L410.7 3724.0 L411.8 3655.5 L415.4 3657.1 L417.7 3660.0 L418.5 3771.3 L419.6 3877.3 L420.6 3967.0 L421.3 4005.4 L440.0 4008.6 L440.6 4006.9 L442.7 3992.9 L445.1 3987.6 L447.6 3996.4 L450.0 4006.9 L452.9 4008.0 L454.6 3996.4 L456.4 3993.9 L458.8 3999.9 L461.6 4008.7 L464.4 4008.0 L466.2 3998.1 L468.0 3994.6 L469.7 4001.7 L471.5 4019.2 L473.6 4033.3 L476.4 4031.5 L478.5 4019.2 L480.6 4015.7 L482.7 4019.2 L485.5 4031.5 L489.0 4032.6 L491.2 4021.0 L493.3 4015.7 L495.4 4021.0 L497.8 4032.6 L502.0 4032.6 L504.5 4019.2 L506.6 4015.0 L508.7 4021.0 L510.8 4032.6 L515.0 4032.6 L517.2 4022.0 L519.3 4018.5 L521.4 4022.7 L523.5 4032.6 L526.6 4031.5 L527.3 3952.5 L528.4 3811.9 L529.8 3703.0 L531.2 3697.5 L558.3 3697.5 L559.3 3741.6 L560.7 3882.2 L562.1 3987.6 L563.5 4022.7 L568.8 4022.7 L571.5 4022.7 L572.2 4005.2 L572.9 3982.3 L573.5 3982.3 L574.1 4005.2 L574.6 4022.7 L576.9 4022.7 L582.9 4023.4 L588.1 4025.6 L595.9 4025.6 L598.4 4025.6 L598.8 4005.2 L599.3 3980.6 L599.8 3979.9 L600.3 4005.2 L600.7 4025.6 L603.2 4025.6 L612.7 4025.6 L619.8 4025.6 L620.0 4025.7 L628.4 4025.7 L630.8 4025.7 L631.6 4001.1 L632.8 3984.2 L634.1 3981.4 L635.3 3984.2 L636.1 4001.1 L636.9 4022.2 L637.7 4025.7 L640.4 4025.7 L647.4 4025.7 L648.8 4036.2 L650.2 4050.3 L651.6 4053.4 L654.4 4053.4 L656.8 4053.4 L657.5 3987.0 L658.5 3902.7 L659.5 3818.4 L659.9 3783.5 L663.0 3783.5 L663.9 3860.5 L664.7 3944.9 L665.7 4015.2 L666.4 4053.4 L668.9 4053.4 L669.9 3980.0 L670.9 3874.6 L671.7 3804.3 L672.4 3747.8 L673.1 3747.8 L674.1 3756.5 L675.2 3767.8 L675.9 3786.1 L677.1 3808.5 L677.3 3874.6 L677.9 3980.0 L679.0 4053.4 L681.8 4053.4 L683.0 3973.0 L684.4 3850.7 L685.4 3797.3 L686.3 3770.6 L687.5 3759.4 L688.4 3747.8 L688.7 3748.1 L689.1 3787.5 L689.7 3832.4 L690.0 3860.5 L690.6 3930.8 L691.0 3977.9 L691.7 4029.2 L692.4 4053.4 L695.2 4053.4 L695.9 3973.0 L697.0 3860.5 L698.0 3804.3 L698.7 3783.5 L701.2 3783.5 L701.7 3811.4 L702.6 3881.6 L703.6 3958.9 L704.3 4053.4 L706.4 4053.4 L707.8 4015.2 L709.2 3999.7 L712.1 3999.7 L713.0 4022.2 L714.4 4043.3 L716.3 4053.4 L717.7 4053.4 L719.1 4047.5 L721.2 4039.0 L723.3 4036.2 L726.8 4036.5 L728.9 4037.9 L731.0 4036.9 L733.4 4036.9 L734.0 4022.2 L734.9 4001.1 L736.0 3997.6 L737.3 3997.6 L738.3 4008.1 L738.9 4029.2 L739.5 4043.3 L740.3 4053.4 L743.0 4053.4 L746.5 4053.4 L747.6 4036.2 L749.0 4015.2 L750.7 4006.0 L753.5 4006.0 L754.9 4015.2 L756.1 4029.2 L757.0 4034.8 L758.4 4029.2 L760.5 4025.7 L763.4 4026.1 L765.5 4032.0 L766.9 4043.3 L768.3 4053.4 L771.1 4053.4 L772.1 4043.3 L773.2 4032.0 L774.6 4029.2 L778.1 4029.2 L780.2 4033.4 L781.6 4039.0 L783.7 4039.0 L785.6 4032.0 L787.3 4028.5 L790.8 4028.5 L792.2 4036.2 L793.6 4050.3 L795.0 4053.4 L797.4 4053.4 L798.2 4043.3 L799.2 4029.2 L800.6 4024.3 L802.0 4025.7 L804.1 4032.0 L805.5 4037.6 L807.6 4038.3 L809.7 4037.6 L811.1 4032.0 L812.8 4028.5 L815.4 4028.5 L817.5 4033.4 L818.9 4038.3 L820.0 4038.3 L822.7 4033.3 L825.5 4028.0 L829.0 4031.5 L832.2 4036.8 L835.4 4033.3 L838.5 4028.0 L842.0 4031.5 L844.8 4036.8 L848.0 4033.3 L850.8 4028.0 L854.3 4031.5 L857.1 4036.8 L860.0 4035.0 L860.0 4034.9 L862.3 4031.0 L864.7 4029.9 L867.0 4032.6 L869.3 4037.2 L873.2 4037.2 L874.8 4031.0 L876.3 4029.0 L878.6 4030.2 L881.0 4034.9 L882.5 4037.2 L885.6 4037.2 L887.2 4031.0 L888.7 4029.0 L891.1 4030.2 L893.4 4034.9 L895.4 4037.2 L898.0 4037.2 L899.1 4037.2 L899.9 3996.1 L901.0 3918.4 L901.9 3840.8 L903.0 3781.8 L903.5 3770.6 L905.3 3770.6 L906.0 3809.8 L906.9 3871.9 L907.7 3965.0 L908.4 4011.6 L909.4 4037.2 L912.0 4037.2 L912.8 3965.0 L913.7 3871.9 L914.5 3794.2 L915.1 3741.9 L915.4 3744.5 L916.4 3755.4 L917.5 3764.7 L918.4 3794.2 L919.3 3871.9 L920.2 3949.5 L921.0 4011.6 L921.8 4037.2 L924.4 4037.2 L925.2 3965.0 L926.3 3871.9 L927.2 3809.8 L928.0 3770.6 L930.2 3770.6 L931.1 3809.8 L932.0 3871.9 L933.0 3934.0 L933.8 4011.6 L934.5 4037.2 L937.6 4037.2 L938.4 3980.6 L939.5 3887.4 L940.4 3809.8 L941.1 3770.9 L944.0 3766.3 L944.9 3739.9 L945.9 3716.6 L946.6 3697.5 L947.7 3692.5 L950.1 3691.7 L953.2 3692.0 L957.0 3694.1 L959.4 3697.5 L974.9 3697.5 L975.4 3708.8 L976.1 3770.9 L977.4 3856.3 L978.2 3934.0 L979.3 3972.8 L980.3 3988.3 L981.6 4008.5 L982.7 4024.0 L984.2 4042.7 L986.6 4048.9 L988.6 4049.7 L991.5 4049.7 L992.2 4042.7 L992.8 4027.1 L993.5 4011.6 L994.3 4010.1 L995.1 4011.6 L995.5 4027.1 L995.9 4045.8 L996.4 4052.8 L998.5 4052.8 L1000.5 4052.8 L1002.1 4047.3 L1003.2 4042.7 L1004.7 4041.1 L1006.7 4042.7 L1009.1 4045.8 L1010.9 4046.6 L1014.2 4046.6 L1015.5 4043.4 L1017.0 4040.3 L1017.8 4027.1 L1018.5 4011.6 L1019.5 4003.9 L1020.8 4003.9 L1021.8 4011.6 L1022.5 4027.1 L1023.2 4040.3 L1024.9 4040.3 L1029.3 4040.8 L1033.1 4041.1 L1034.7 4044.2 L1036.2 4045.8 L1037.8 4042.7 L1039.3 4040.8 L1043.2 4040.8 L1049.4 4040.8 L1051.0 4027.1 L1052.2 4011.6 L1053.8 3996.9 L1056.0 3996.1 L1057.5 4003.9 L1058.8 4027.1 L1060.0 4039.6 L1059.9 4036.8 L1063.4 4038.6 L1065.9 4022.7 L1068.0 4019.2 L1070.4 4026.3 L1072.9 4043.8 L1075.0 4054.4 L1077.5 4052.6 L1079.2 4036.8 L1081.3 4029.8 L1084.5 4031.5 L1088.0 4038.6 L1091.5 4035.0 L1095.0 4031.5 L1098.5 4035.0 L1102.1 4038.6 L1104.5 4035.0 L1107.3 4030.5 L1110.8 4034.0 L1114.3 4038.6 L1117.2 4035.0 L1120.0 4030.5 L1123.1 4034.0 L1126.6 4038.6 L1129.5 4033.3 L1132.6 4028.0 L1136.1 4031.5 L1140.0 4038.6 L1139.8 4036.8 L1144.1 4030.5 L1147.6 4036.8 L1151.8 4036.8 L1157.4 4028.0 L1161.6 4036.8 L1165.1 4036.8 L1169.7 4024.5 L1173.9 4036.8 L1178.1 4036.8 L1182.7 4024.5 L1186.9 4036.8 L1191.5 4036.8 L1195.7 4028.0 L1200.3 4036.8 L1203.8 4036.8 L1208.0 4028.0 L1212.6 4036.8 L1217.8 4037.5 L1220.0 4038.6 L1220.0 4040.3 L1222.3 4034.9 L1224.7 4034.6 L1227.0 4038.8 L1229.3 4039.6 L1231.6 4034.9 L1234.0 4033.7 L1236.3 4036.5 L1238.3 4040.3 L1242.5 4040.3 L1243.6 4040.3 L1244.1 4011.6 L1244.8 3934.0 L1245.9 3825.3 L1246.7 3732.1 L1247.2 3691.7 L1248.0 3690.2 L1249.5 3691.0 L1250.4 3763.2 L1251.1 3825.3 L1252.1 3934.0 L1253.1 3996.1 L1254.2 4042.7 L1254.9 4045.8 L1255.7 4045.8 L1256.3 3996.1 L1257.4 3910.7 L1258.5 3798.9 L1259.6 3718.1 L1259.9 3691.7 L1261.9 3693.3 L1264.3 3697.5 L1282.1 3697.5 L1282.4 3697.5 L1283.4 3724.3 L1284.0 3749.2 L1286.5 3732.1 L1288.3 3728.2 L1288.3 3778.7 L1289.4 3856.3 L1290.5 3957.3 L1291.4 4027.1 L1292.2 4053.5 L1294.5 4053.5 L1295.3 3996.1 L1296.1 3918.4 L1297.2 3840.8 L1297.6 3781.0 L1300.0 3781.8 L1301.1 3784.9 L1301.7 3825.3 L1302.3 3902.9 L1303.1 3980.6 L1303.9 4027.1 L1304.6 4053.5 L1307.0 4053.5 L1307.7 3980.6 L1308.8 3887.4 L1309.8 3809.8 L1310.5 3739.1 L1310.8 3739.9 L1311.6 3752.3 L1312.5 3766.3 L1313.6 3791.1 L1314.7 3848.6 L1315.3 3918.4 L1316.0 3980.6 L1316.6 4027.1 L1317.4 4053.5 L1319.4 4053.5 L1320.2 3980.6 L1321.2 3887.4 L1322.5 3825.3 L1323.7 3776.8 L1326.4 3776.8 L1326.5 3794.2 L1327.6 3864.1 L1328.7 3949.5 L1329.3 3996.1 L1329.0 4044.2 L1331.0 4039.6 L1332.6 4011.6 L1334.1 4000.7 L1336.5 4001.1 L1337.4 4024.0 L1338.8 4042.7 L1340.3 4050.4 L1342.7 4053.2 L1344.2 4050.4 L1345.5 4042.7 L1346.6 4040.3 L1348.9 4040.3 L1355.1 4040.3 L1357.7 4040.3 L1358.6 4027.1 L1359.5 4011.6 L1360.4 4003.9 L1361.3 4003.1 L1362.2 4003.9 L1363.1 4019.4 L1364.0 4034.9 L1364.8 4040.3 L1367.2 4040.3 L1375.3 4040.3 L1384.6 4040.3 L1387.4 4040.3 L1388.5 4020.9 L1389.9 3999.5 L1391.3 4020.9 L1392.4 4040.3 L1393.6 4040.0 L1397.0 4032.1 L1399.8 4030.7 L1402.6 4033.5 L1406.3 4040.0 L1409.6 4030.7 L1412.4 4027.1 L1415.2 4030.7 L1418.6 4040.0 L1422.3 4029.3 L1425.1 4025.7 L1427.9 4029.3 L1431.6 4040.0 L1434.9 4029.9 L1437.7 4027.1 L1440.5 4030.7 L1444.2 4040.0 L1447.6 4031.6 L1450.9 4028.5 L1453.8 4032.1 L1457.4 4040.0 L1461.7 4040.3 L1463.6 4011.6 L1464.7 3957.3 L1465.9 3879.6 L1466.7 3809.8 L1467.2 3773.7 L1467.6 3825.3 L1468.4 3902.9 L1469.5 3980.6 L1470.7 4040.3 L1472.9 4040.3 L1473.9 3980.6 L1474.8 3902.9 L1475.6 3840.8 L1476.5 3773.7 L1478.8 3773.7 L1479.3 3794.2 L1480.4 3840.8 L1480.8 3902.9 L1481.3 3971.2 L1481.9 4040.3 L1486.6 4040.3 L1486.6 3996.1 L1487.5 3902.9 L1488.6 3825.3 L1489.4 3778.7 L1490.0 3774.0 L1492.5 3766.3 L1493.6 3743.0 L1494.5 3718.1 L1495.4 3697.5 L1495.4 3691.7 L1499.0 3694.8 L1503.7 3697.5 L1506.8 3697.5 L1527.0 3697.5 L1527.4 3701.1 L1528.4 3722.8 L1529.4 3743.0 L1530.4 3778.7 L1531.5 3840.8 L1532.5 3926.2 L1533.6 4011.6 L1534.4 4048.9 L1536.3 4053.5 L1537.0 4053.5 L1538.1 3980.6 L1539.4 3871.9 L1540.2 3777.1 L1540.5 3825.3 L1541.4 3932.4 L1542.5 4016.3 L1543.3 4041.9 L1546.0 4043.1 L1561.4 4043.1 L1563.9 4048.4 L1570.8 4050.4 L1575.3 4050.4 L1578.2 4033.4 L1581.2 4053.3 L1588.1 4053.3 L1591.0 4032.5 L1594.0 4053.3 L1600.8 4053.3 L1603.8 4012.5 L1606.8 4053.3 L1613.6 4053.3 L1616.6 4022.3 L1619.5 4053.3 L1626.7 4053.3 L1629.7 4016.4 L1632.6 4053.3 L1639.2 4053.3 L1642.2 4015.4 L1645.1 4050.1 L1652.0 4050.1 L1655.0 4015.4 L1657.9 4053.3 L1664.5 4053.3 L1667.5 4014.4 L1670.4 4053.3 L1677.1 4053.3 L1680.1 4014.4 L1683.0 4026.3 L1687.0 4025.8 L1689.9 4019.4 L1692.9 4015.4 L1695.8 4019.4 L1698.3 4025.3 L1700.1 4025.8 L1702.0 4021.0 L1704.8 4015.7 L1708.0 4021.0 L1710.8 4025.6 L1713.6 4022.7 L1717.1 4015.7 L1720.3 4021.0 L1723.1 4025.6 L1726.6 4022.7 L1730.1 4015.7 L1732.6 4015.0 L1735.4 4022.7 L1738.2 4025.6 L1741.0 4022.7 L1742.1 3952.5 L1743.1 3829.5 L1744.2 3724.1 L1745.2 3697.5 L1774.1 3697.5 L1774.8 3776.8 L1775.8 3882.2 L1776.9 3987.6 L1776.2 4011.9 L1778.2 4011.9 L1780.3 4011.9 L1781.2 3978.7 L1782.0 3958.5 L1782.9 3958.5 L1783.7 3978.7 L1784.6 4001.2 L1785.4 4011.9 L1788.3 4011.9 L1790.6 4012.7 L1801.8 4013.0 L1804.2 4013.0 L1804.9 4001.2 L1806.0 3984.3 L1807.0 3972.0 L1808.0 3969.7 L1809.1 3972.0 L1809.9 3984.3 L1810.8 4001.2 L1811.5 4012.4 L1812.2 4014.1 L1814.8 4014.1 L1825.5 4014.5 L1827.1 4019.2 L1828.3 4032.7 L1829.7 4041.1 L1830.8 4034.9 L1831.3 4012.4 L1832.2 4004.6 L1833.9 4003.7 L1835.6 4005.1 L1836.7 4012.4 L1837.8 4023.7 L1838.9 4038.3 L1840.6 4050.7 L1840.9 4053.4 L1843.1 4053.4 L1843.4 4008.9 L1844.4 3935.6 L1845.4 3848.0 L1846.3 3786.2 L1846.4 3772.6 L1848.1 3774.0 L1849.6 3777.6 L1850.6 3843.7 L1851.1 3915.5 L1852.0 3987.4 L1852.6 4030.5 L1853.2 4053.4 L1855.3 4053.4 L1856.3 4001.7 L1857.5 3915.5 L1858.5 3829.3 L1859.5 3774.7 L1860.1 3772.6 L1862.5 3772.6 L1863.2 3829.3 L1863.9 3901.1 L1864.7 3973.0 L1865.4 4016.1 L1866.1 4042.0 L1866.4 4039.4 L1869.0 4039.4 L1869.7 4039.4 L1870.1 3987.4 L1870.8 3901.1 L1871.4 3829.3 L1871.8 3772.6 L1875.0 3772.6 L1875.6 3843.7 L1876.4 3929.9 L1877.3 4001.7 L1878.0 4044.8 L1878.7 4054.9 L1879.5 4056.0 L1880.5 4030.5 L1882.2 3973.0 L1883.3 3843.7 L1884.3 3772.6 L1887.1 3772.6 L1887.6 3780.5 L1888.5 3829.3 L1889.5 3915.5 L1890.5 4001.7 L1891.2 4039.1 L1892.0 4039.1 L1894.8 4030.5 L1896.6 4008.9 L1898.4 3998.9 L1900.6 3996.3 L1902.3 3998.9 L1903.7 4008.9 L1904.9 4023.3 L1906.3 4036.2 L1907.0 4039.1 L1919.3 4039.1 L1921.8 4039.1 L1922.7 4030.5 L1923.6 4008.9 L1924.7 3998.1 L1926.1 3996.3 L1927.3 3998.1 L1928.2 4008.9 L1929.0 4023.3 L1929.6 4036.2 L1930.0 4039.1 L1932.5 4039.1 L1938.6 4039.1 L1940.1 4044.8 L1942.2 4053.4 L1944.4 4056.0 L1945.8 4054.9 L1948.3 4054.9 L1949.1 4044.8 L1949.6 4023.3 L1950.4 4004.6 L1951.2 3998.1 L1952.2 3998.1 L1953.1 4004.6 L1953.9 4023.3 L1954.6 4036.2 L1955.2 4039.4 L1957.8 4039.4 L1966.7 4039.1 L1979.6 4039.1 L1981.3 4023.3 L1983.2 4001.7 L1984.9 3991.7 L1986.8 3990.2 L1988.5 3991.7 L1989.7 4001.7 L1990.8 4023.3 L1991.8 4044.8 L1992.8 4054.9 L1994.0 4056.0 L1995.1 4050.6 L1996.6 4042.0 L1998.3 4036.9 L2000.0 4036.9 L2002.5 4036.8 L2004.2 4047.3 L2006.0 4053.7 L2008.8 4053.7 L2010.2 4022.7 L2011.9 3992.9 L2013.7 4001.7 L2015.5 4029.8 L2017.2 4050.9 L2019.3 4053.7 L2021.1 4040.3 L2023.5 4026.3 L2026.3 4024.5 L2029.2 4029.8 L2032.3 4036.8 L2034.8 4031.5 L2037.6 4027.0 L2040.0 4030.5 L2040.0 4028.7 L2042.3 4033.4 L2044.7 4035.7 L2047.0 4035.7 L2047.8 4027.1 L2047.8 3996.1 L2048.9 3910.7 L2049.6 3803.5 L2050.7 3724.3 L2050.9 3697.5 L2078.8 3697.5 L2079.3 3739.9 L2080.4 3825.3 L2081.6 3934.0 L2082.7 4011.6 L2083.5 4027.1 L2085.8 4027.1 L2086.6 3980.6 L2087.4 3871.9 L2088.1 3778.7 L2088.8 3716.6 L2089.1 3718.1 L2089.7 3727.5 L2090.6 3741.4 L2091.7 3758.5 L2092.5 3809.8 L2093.3 3887.4 L2094.3 3965.0 L2095.1 4011.6 L2095.9 4027.1 L2098.2 4027.1 L2099.0 3965.0 L2100.1 3871.9 L2101.2 3809.8 L2101.8 3761.6 L2104.1 3761.6 L2105.2 3825.3 L2106.1 3902.9 L2107.1 3965.0 L2107.9 4011.6 L2108.6 4027.1 L2111.1 4027.1 L2111.7 3965.0 L2112.7 3887.4 L2113.6 3825.3 L2114.5 3769.4 L2115.6 3748.4 L2116.7 3737.5 L2117.3 3727.8 L2117.6 3727.8 L2118.0 3778.7 L2118.6 3840.8 L2119.2 3918.4 L2120.0 3965.0 L2120.7 4011.6 L2121.5 4027.1 L2123.9 4027.1 L2124.6 3965.0 L2125.4 3871.9 L2126.5 3794.2 L2127.3 3761.6 L2128.5 3763.2 L2129.8 3767.0 L2130.5 3772.5 L2131.6 3887.4 L2132.5 3980.6 L2133.2 4027.1 L2133.5 4053.2 L2135.0 4048.9 L2137.0 4042.7 L2139.4 4038.8 L2140.9 4035.2 L2146.4 4035.2 L2148.9 4035.2 L2149.5 4027.1 L2150.3 4011.6 L2151.4 3999.2 L2152.6 3996.9 L2153.8 3999.2 L2154.7 4011.6 L2155.5 4027.1 L2156.3 4034.9 L2158.8 4034.9 L2164.2 4035.2 L2210.0 4035.2 L2212.5 4035.2 L2213.1 4027.1 L2213.8 4011.6 L2214.7 3997.6 L2215.8 3994.8 L2217.0 3996.1 L2217.9 4008.5 L2218.6 4024.0 L2219.4 4034.9 L2222.0 4034.9 L2223.2 4035.2 L2234.9 4035.2 L2236.8 4035.2 L2237.9 4019.5 L2240.1 4005.4 L2241.7 4003.3 L2243.6 4005.4 L2245.0 4019.5 L2246.1 4035.2 L2247.1 4043.4 L2248.5 4049.7 L2249.9 4050.4 L2250.9 4040.5 L2252.3 4033.5 L2254.1 4032.1 L2256.2 4033.5 L2257.9 4037.7 L2259.3 4047.6 L2260.7 4053.2 L2262.5 4053.5 L2263.9 4051.8 L2264.9 4040.5 L2266.1 4030.0 L2267.5 4027.6 L2269.1 4028.6 L2271.0 4032.1 L2273.1 4034.5 L2275.2 4033.5 L2277.0 4028.6 L2278.7 4026.2 L2280.1 4025.8 L2281.8 4026.5 L2283.6 4030.7 L2285.7 4034.5 L2287.8 4033.5 L2289.7 4028.6 L2291.4 4026.2 L2292.8 4025.8 L2294.4 4026.5 L2296.3 4030.7 L2298.4 4034.5 L2300.5 4033.5 L2302.3 4028.6 L2304.0 4026.2 L2305.4 4025.8 L2307.1 4026.5 L2308.9 4030.7 L2311.0 4034.5 L2312.4 4034.5"/>
<path class="k" stroke-width="7" stroke-dasharray="25 22.52" d="M181.5 3697.5H2312.5"/>
<text transform="translate(181.5 4123.5) scale(0.96 1)" font-size="54" text-anchor="middle">0</text>
<text transform="translate(436.6 4123.5) scale(0.96 1)" font-size="54" text-anchor="middle">20</text>
<text transform="translate(691.7 4123.5) scale(0.96 1)" font-size="54" text-anchor="middle">40</text>
<text transform="translate(946.9 4123.5) scale(0.96 1)" font-size="54" text-anchor="middle">60</text>
<text transform="translate(1202.0 4123.5) scale(0.96 1)" font-size="54" text-anchor="middle">80</text>
<text transform="translate(1457.1 4123.5) scale(0.96 1)" font-size="54" text-anchor="middle">100</text>
<text transform="translate(1712.2 4123.5) scale(0.96 1)" font-size="54" text-anchor="middle">120</text>
<text transform="translate(1967.3 4123.5) scale(0.96 1)" font-size="54" text-anchor="middle">140</text>
<text transform="translate(2222.5 4123.5) scale(0.96 1)" font-size="54" text-anchor="middle">160</text>
<text transform="translate(161.3 4074.0) scale(0.96 1)" font-size="54" text-anchor="end">0</text>
<text transform="translate(161.3 3896.0) scale(0.96 1)" font-size="54" text-anchor="end">2</text>
<text transform="translate(161.3 3718.0) scale(0.96 1)" font-size="54" text-anchor="end">4</text>
<text transform="translate(161.3 3540.0) scale(0.96 1)" font-size="54" text-anchor="end">6</text>
<text transform="translate(161.3 3362.0) scale(0.96 1)" font-size="54" text-anchor="end">8</text>
<text transform="translate(161.3 3184.0) scale(0.96 1)" font-size="54" text-anchor="end">10</text>
<text class="t" x="1254.5" y="3053.0" font-size="58.6" text-anchor="middle" letter-spacing="0.3">Total Power Consumption</text>
<text x="1253.0" y="4199.0" font-size="58.85" text-anchor="middle">Time [Hours]</text>
<text transform="translate(82.8 3564.0) rotate(-90)" font-size="58.85" text-anchor="middle">Power consumption [kW]</text>
<rect x="1758.5" y="3057.5" width="554.0" height="131.0" fill="#fff" stroke="#262626" stroke-width="1" shape-rendering="crispEdges"/>
<path class="c" stroke-width="7" d="M1767.0 3090.8H1858.0"/>
<path class="k" stroke-width="7" stroke-dasharray="24 24" d="M1767.0 3153.0H1858.0"/>
<text class="t" x="1864.0" y="3110.0" font-size="48">consumption</text>
<text class="t" x="1864.0" y="3172.0" font-size="48">capacity constraint</text>
<text class="cap" x="1202.5" y="4319.6" font-size="78" text-anchor="middle">(<tspan>c</tspan>)</text>
</g>
</svg></body></html>
